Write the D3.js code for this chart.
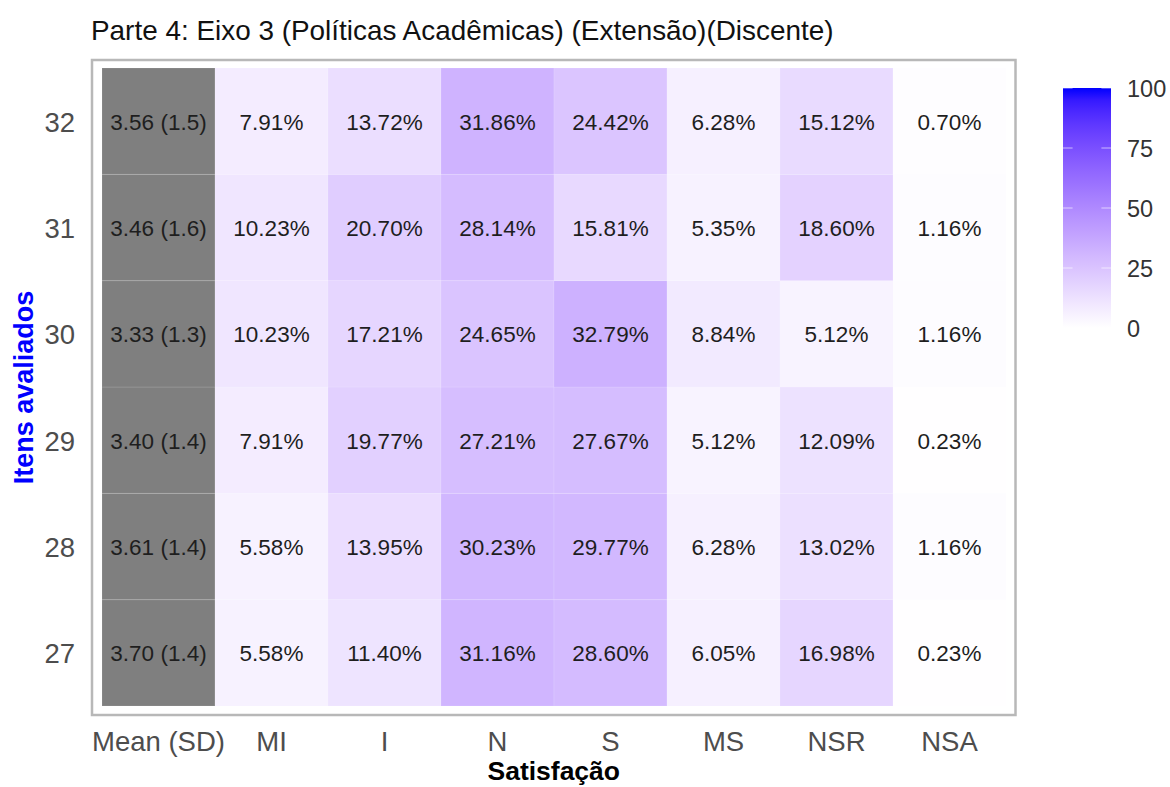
<!DOCTYPE html>
<html>
<head>
<meta charset="utf-8">
<script src="https://cdn.jsdelivr.net/npm/d3@7"></script>
<style>
  html, body { margin: 0; padding: 0; background: #ffffff; }
  svg { display: block; font-family: "Liberation Sans", Arial, Helvetica, sans-serif; }
</style>
</head>
<body>
<svg id="chart" width="1170" height="787"></svg>
<script>
// ---- data ----
const titleText = "Parte 4: Eixo 3 (Políticas Acadêmicas) (Extensão)(Discente)";
const columns = ["Mean (SD)", "MI", "I", "N", "S", "MS", "NSR", "NSA"];
const items = ["27", "28", "29", "30", "31", "32"];
const meanSD = ["3.70 (1.4)", "3.61 (1.4)", "3.40 (1.4)", "3.33 (1.3)", "3.46 (1.6)", "3.56 (1.5)"];
const valMI  = [5.58, 5.58, 7.91, 10.23, 10.23, 7.91];
const valI   = [11.40, 13.95, 19.77, 17.21, 20.70, 13.72];
const valN   = [31.16, 30.23, 27.21, 24.65, 28.14, 31.86];
const valS   = [28.60, 29.77, 27.67, 32.79, 15.81, 24.42];
const valMS  = [6.05, 6.28, 5.12, 8.84, 5.35, 6.28];
const valNSR = [16.98, 13.02, 12.09, 5.12, 18.60, 15.12];
const valNSA = [0.23, 1.16, 0.23, 1.16, 1.16, 0.70];
const legendTicks = [0, 25, 50, 75, 100];
const xTitle = "Satisfação";
const yTitle = "Itens avaliados";

// ---- build cells ----
const seriesByCol = { MI: valMI, I: valI, N: valN, S: valS, MS: valMS, NSR: valNSR, NSA: valNSA };
const cells = [];
items.forEach((it, i) => {
  cells.push({ item: it, col: "Mean (SD)", value: null, label: meanSD[i] });
  Object.keys(seriesByCol).forEach(c => {
    const v = seriesByCol[c][i];
    cells.push({ item: it, col: c, value: v, label: v.toFixed(2) + "%" });
  });
});

const svg = d3.select("#chart");

function addText(g, x, y, txt, opts) {
  const rot = opts.rotate ? ` rotate(${opts.rotate})` : "";
  return g.append("text")
    .attr("transform", `translate(${x},${y})${rot}`)
    .attr("text-anchor", opts.anchor || "start")
    .attr("dominant-baseline", opts.baseline || "auto")
    .attr("font-size", opts.size)
    .attr("font-weight", opts.weight || "normal")
    .attr("fill", opts.fill || "#000")
    .text(txt);
}

// ---- scales ----
const x = d3.scaleBand().domain(columns).range([102, 1006]).padding(0);
const y = d3.scaleBand().domain(items.slice().reverse()).range([68, 706]).padding(0);
const color = d3.scaleLinear().domain([0, 100]).range(["#ffffff", "#0000ff"]).interpolate(d3.interpolateLab);

// ---- panel ----
const panel = { x0: 92, x1: 1015.5, y0: 60, y1: 715 };

const gTiles = svg.append("g");
gTiles.selectAll("rect.tile")
  .data(cells)
  .join("rect")
  .attr("class", "tile")
  .attr("x", d => x(d.col))
  .attr("y", d => y(d.item))
  .attr("width", x.bandwidth())
  .attr("height", y.bandwidth())
  .attr("fill", d => d.value === null ? "#7f7f7f" : color(d.value))
  .attr("stroke", "#ffffff")
  .attr("stroke-opacity", 0.12)
  .attr("stroke-width", 1);

const gLabels = svg.append("g");
cells.forEach(d => {
  addText(gLabels, x(d.col) + x.bandwidth() / 2, y(d.item) + y.bandwidth() / 2 + 1, d.label,
    { anchor: "middle", baseline: "central", size: 22.5, fill: "#1e1e1e" });
});

svg.append("rect")
  .attr("x", panel.x0).attr("y", panel.y0)
  .attr("width", panel.x1 - panel.x0).attr("height", panel.y1 - panel.y0)
  .attr("fill", "none").attr("stroke", "#b8b8b8").attr("stroke-width", 2.5);

// ---- axes (tick labels only, ggplot-like) ----
const gx = svg.append("g");
columns.forEach(c => {
  addText(gx, x(c) + x.bandwidth() / 2, 751, c, { anchor: "middle", size: 27.5, fill: "#4d4d4d" });
});
const gy = svg.append("g");
items.forEach(it => {
  addText(gy, 75, y(it) + y.bandwidth() / 2 + 1, it, { anchor: "end", baseline: "central", size: 27.5, fill: "#4d4d4d" });
});

// ---- titles ----
addText(svg, 91, 40, titleText, { size: 27.9, fill: "#111" });
addText(svg, (panel.x0 + panel.x1) / 2, 780, xTitle, { anchor: "middle", size: 26.5, weight: "bold", fill: "#000" });
addText(svg, 32.5, (panel.y0 + panel.y1) / 2, yTitle, { anchor: "middle", size: 27, weight: "bold", fill: "#0000ff", rotate: -90 });

// ---- legend colourbar ----
const leg = { x: 1063, w: 48, y0: 88, y1: 328 };
const ly = d3.scaleLinear().domain([0, 100]).range([leg.y1, leg.y0]);
const defs = svg.append("defs");
const grad = defs.append("linearGradient").attr("id", "cbar")
  .attr("x1", 0).attr("y1", 1).attr("x2", 0).attr("y2", 0);
d3.range(0, 101, 5).forEach(v => {
  grad.append("stop").attr("offset", (v / 100)).attr("stop-color", color(v));
});
svg.append("rect")
  .attr("x", leg.x).attr("y", ly(100)).attr("width", leg.w).attr("height", ly(0) - ly(100))
  .attr("fill", "url(#cbar)");
const gl = svg.append("g");
legendTicks.forEach(t => {
  const yy = ly(t);
  gl.append("line").attr("x1", leg.x).attr("x2", leg.x + leg.w / 5).attr("y1", yy).attr("y2", yy)
    .attr("stroke", "#ffffff").attr("stroke-opacity", 0.6).attr("stroke-width", 1);
  gl.append("line").attr("x1", leg.x + leg.w - leg.w / 5).attr("x2", leg.x + leg.w).attr("y1", yy).attr("y2", yy)
    .attr("stroke", "#ffffff").attr("stroke-opacity", 0.6).attr("stroke-width", 1);
  addText(gl, 1127, yy + 1, String(t), { baseline: "central", size: 23.5, fill: "#333" });
});
</script>
</body>
</html>
